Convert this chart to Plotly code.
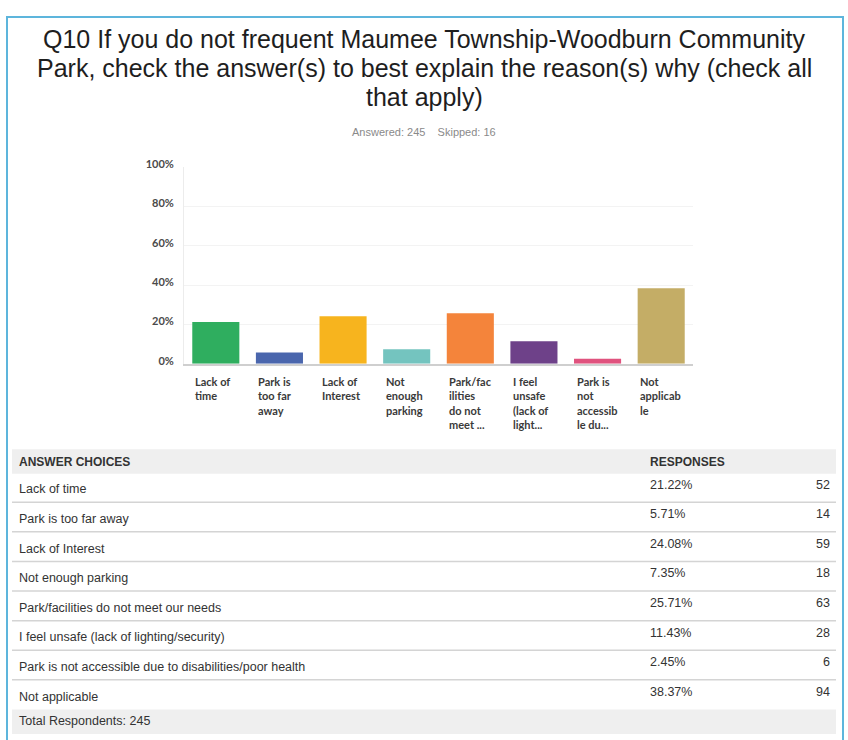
import plotly.graph_objects as go

W, H = 848, 740

title_lines = [
    "Q10 If you do not frequent Maumee Township-Woodburn Community",
    "Park, check the answer(s) to best explain the reason(s) why (check all",
    "that apply)",
]
subtitle = "Answered: 245\u00a0\u00a0\u00a0\u00a0Skipped: 16"

choices = [
    "Lack of time",
    "Park is too far away",
    "Lack of Interest",
    "Not enough parking",
    "Park/facilities do not meet our needs",
    "I feel unsafe (lack of lighting/security)",
    "Park is not accessible due to disabilities/poor health",
    "Not applicable",
]
tick_labels = [
    "Lack of<br>time",
    "Park is<br>too far<br>away",
    "Lack of<br>Interest",
    "Not<br>enough<br>parking",
    "Park/fac<br>ilities<br>do not<br>meet ...",
    "I feel<br>unsafe<br>(lack of<br>light...",
    "Park is<br>not<br>accessib<br>le du...",
    "Not<br>applicab<br>le",
]
percents = [21.22, 5.71, 24.08, 7.35, 25.71, 11.43, 2.45, 38.37]
counts = [52, 14, 59, 18, 63, 28, 6, 94]
total_respondents = 245
bar_colors = ["#2fae5f", "#4a66ad", "#f7b41e", "#74c4bf",
              "#f4843b", "#6e4189", "#e0527e", "#c4ad66"]
y_ticks = [0, 20, 40, 60, 80, 100]


def px(x):
    return x / W


def py(y):
    return 1 - y / H


fig = go.Figure()
fig.add_trace(go.Bar(
    x=list(range(len(choices))), y=percents,
    marker=dict(color=bar_colors, line=dict(width=0)),
    hoverinfo="skip", showlegend=False,
))

plot_x0, plot_x1 = 184, 693
plot_y0, plot_y1 = 160, 360

fig.update_layout(
    width=W, height=H,
    margin=dict(l=0, r=0, t=0, b=0),
    paper_bgcolor="white", plot_bgcolor="white",
    bargap=0.26,
    xaxis=dict(domain=[px(plot_x0), px(plot_x1)], range=[-0.5, 7.5],
               showticklabels=False, showgrid=False, zeroline=False,
               showline=True, linecolor="#cfcfcf", linewidth=1.5, ticks=""),
    yaxis=dict(domain=[py(plot_y1), py(plot_y0)], range=[0, 100],
               tickvals=y_ticks, ticktext=[f"{v}%" for v in y_ticks],
               showgrid=True, gridcolor="#f3f3f3", gridwidth=1,
               zeroline=False, showline=True, linecolor="#ececec", linewidth=1,
               ticks="", ticklabelstandoff=7, ticklabelshift=-3,
               tickfont=dict(family="Lato", size=11, color="#4a4a4a", weight="bold")),
)

ann = []
shapes = []

# Border
shapes.append(dict(type="rect", xref="paper", yref="paper",
                   x0=px(7), x1=px(843), y0=py(745), y1=py(7),
                   line=dict(color="#5db5dc", width=2), fillcolor="rgba(0,0,0,0)"))

# Title
for i, line in enumerate(title_lines):
    ann.append(dict(text=line, xref="paper", yref="paper", x=px(424), y=py(30 + 29.5 * i),
                    xanchor="center", yanchor="middle", showarrow=False,
                    font=dict(family="Liberation Sans", size=25, color="#1e1e1e")))
ann.append(dict(text=subtitle, xref="paper", yref="paper", x=px(424), y=py(124),
                xanchor="center", yanchor="middle", showarrow=False,
                font=dict(family="Liberation Sans", size=11, color="#8a8a8a")))

# x category labels (left-aligned under bars)
for i, t in enumerate(tick_labels):
    ann.append(dict(text=t, xref="x", yref="paper", x=i, y=py(369),
                    xanchor="left", yanchor="top", align="left", xshift=-23,
                    showarrow=False,
                    font=dict(family="Lato", size=11, color="#3a3a3a", weight="bold")))

# Table
tx0, tx1 = 12, 836
shapes.append(dict(type="rect", xref="paper", yref="paper", layer="below",
                   x0=px(tx0), x1=px(tx1), y0=py(472), y1=py(447),
                   fillcolor="#efefef", line=dict(width=0)))
ann.append(dict(text="<b>ANSWER CHOICES</b>", xref="paper", yref="paper", x=px(17), y=py(460),
                xanchor="left", yanchor="middle", showarrow=False,
                font=dict(family="Liberation Sans", size=12, color="#333333")))
ann.append(dict(text="<b>RESPONSES</b>", xref="paper", yref="paper", x=px(648), y=py(460),
                xanchor="left", yanchor="middle", showarrow=False,
                font=dict(family="Liberation Sans", size=12, color="#333333")))

pitch = 30.14
for i, (c, p, n) in enumerate(zip(choices, percents, counts)):
    yc = 488 + pitch * i
    ann.append(dict(text=c, xref="paper", yref="paper", x=px(17), y=py(yc),
                    xanchor="left", yanchor="middle", showarrow=False,
                    font=dict(family="Liberation Sans", size=12.5, color="#333333")))
    ann.append(dict(text=f"{p:.2f}%", xref="paper", yref="paper", x=px(648), y=py(yc - 5),
                    xanchor="left", yanchor="middle", showarrow=False,
                    font=dict(family="Liberation Sans", size=12.5, color="#333333")))
    ann.append(dict(text=str(n), xref="paper", yref="paper", x=px(832), y=py(yc - 5),
                    xanchor="right", yanchor="middle", showarrow=False,
                    font=dict(family="Liberation Sans", size=12.5, color="#333333")))
    if i < len(choices) - 1:
        ys = 501 + pitch * i
        shapes.append(dict(type="line", xref="paper", yref="paper",
                           x0=px(tx0), x1=px(tx1), y0=py(ys), y1=py(ys),
                           line=dict(color="#d4d4d4", width=1.5)))

shapes.append(dict(type="rect", xref="paper", yref="paper", layer="below",
                   x0=px(tx0), x1=px(tx1), y0=py(737), y1=py(712),
                   fillcolor="#efefef", line=dict(width=0)))
ann.append(dict(text=f"Total Respondents: {total_respondents}", xref="paper", yref="paper",
                x=px(17), y=py(724), xanchor="left", yanchor="middle", showarrow=False,
                font=dict(family="Liberation Sans", size=12.5, color="#333333")))

fig.update_layout(annotations=ann, shapes=shapes)
fig.write_html("out.html", config={"displayModeBar": False},
               post_script="document.body.style.margin='0';document.body.style.overflow='hidden';")
